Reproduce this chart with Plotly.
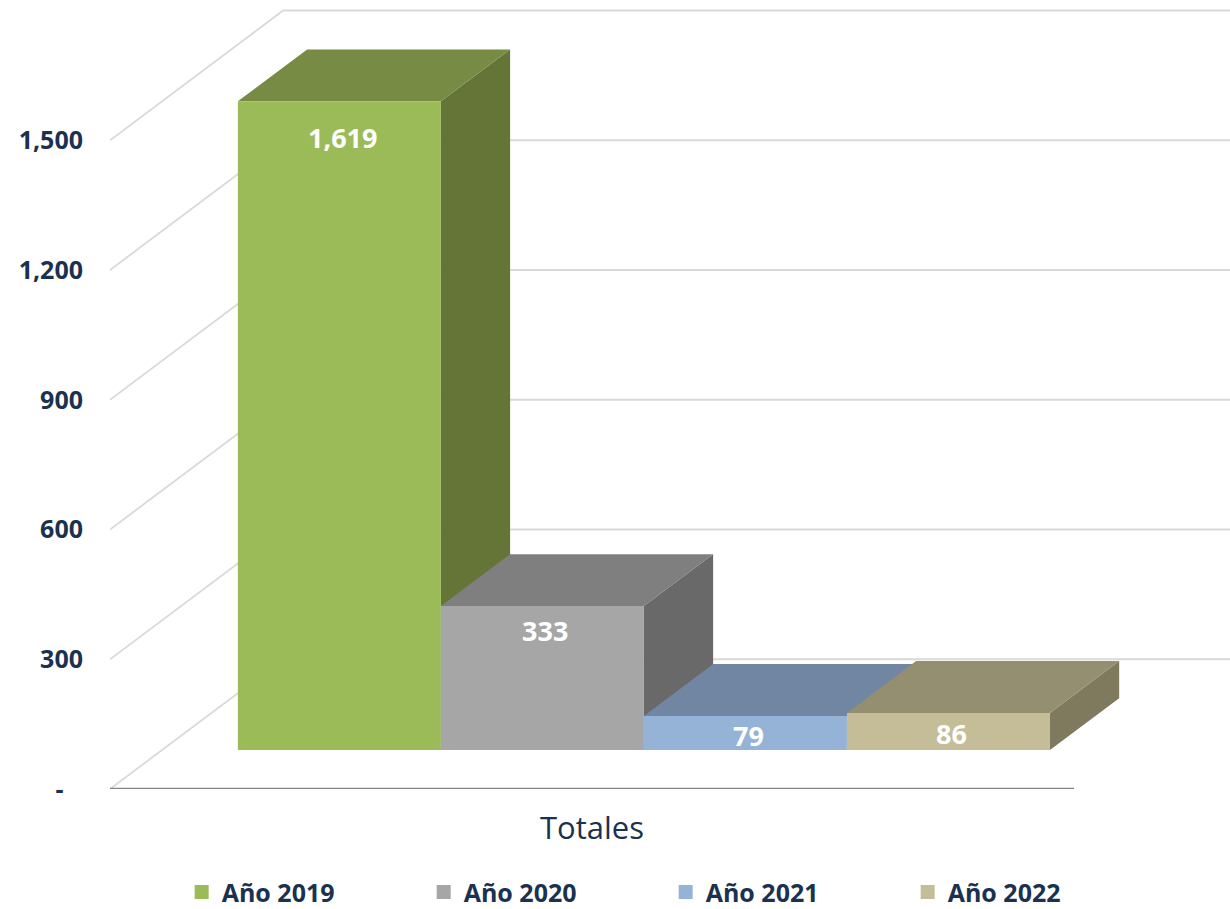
import plotly.graph_objects as go

# ---- data ----
years = ["Año 2019", "Año 2020", "Año 2021", "Año 2022"]
totals = [1619, 333, 79, 86]
category = "Totales"
y_ticks = [0, 300, 600, 900, 1200, 1500]
y_tick_labels = ["-\u00a0\u00a0\u00a0", "300", "600", "900", "1,200", "1,500"]

# ---- styles ----
front_colors = ["#9BBB59", "#A6A6A6", "#95B3D7", "#C4BD97"]
top_colors = ["#778B45", "#7F7F7F", "#7186A3", "#948F70"]
side_colors = ["#647537", "#696969", "#5F7390", "#7F7A5E"]
label_shift_y = [-36, -24, -20, -21]
TEXT = "#1B3150"
GRID = "#D9D9D9"
FONT = "Open Sans"

# ---- oblique projection of the 3-D box layout ----
AXIS_MAX = 1500
DEPTH_X = 0.1795     # floor-width units per full depth
DEPTH_Y = 300        # value units per full depth
SIDE_GAP = 0.0788    # gap at each side of the bars, in floor widths
BAR_NEAR, BAR_FAR = 0.3, 0.7
bar_w = (1 - 2 * SIDE_GAP) / len(totals)


def proj(x, depth, v):
    return x + depth * DEPTH_X, v + depth * DEPTH_Y


def poly(points, color):
    xs, ys = zip(*(proj(*p) for p in points + points[:1]))
    return go.Scatter(x=xs, y=ys, mode="lines", fill="toself", fillcolor=color,
                      line=dict(width=0), hoverinfo="skip", showlegend=False)


fig = go.Figure()

# walls' gridlines
for t in y_ticks:
    xs, ys = zip(proj(0, 0, t), proj(0, 1, t), proj(1.2, 1, t))
    fig.add_trace(go.Scatter(x=xs, y=ys, mode="lines", line=dict(color=GRID, width=1.8),
                             hoverinfo="skip", showlegend=False))

# category axis line
fig.add_trace(go.Scatter(x=[0, 1], y=[0, 0], mode="lines", cliponaxis=False,
                         line=dict(color="#858585", width=2.5),
                         hoverinfo="skip", showlegend=False))

# bars (painted left to right so each one covers its neighbour's side face)
annotations = []
for i, v in enumerate(totals):
    h = min(v, AXIS_MAX)
    x0 = SIDE_GAP + i * bar_w
    x1 = x0 + bar_w
    fig.add_trace(poly([(x1, BAR_NEAR, 0), (x1, BAR_FAR, 0), (x1, BAR_FAR, h), (x1, BAR_NEAR, h)], side_colors[i]))
    fig.add_trace(poly([(x0, BAR_NEAR, h), (x1, BAR_NEAR, h), (x1, BAR_FAR, h), (x0, BAR_FAR, h)], top_colors[i]))
    fig.add_trace(poly([(x0, BAR_NEAR, 0), (x1, BAR_NEAR, 0), (x1, BAR_NEAR, h), (x0, BAR_NEAR, h)], front_colors[i]))
    ax, ay = proj((x0 + x1) / 2, BAR_NEAR, h)
    annotations.append(dict(x=ax, y=ay, xref="x", yref="y", text=f"{v:,}", showarrow=False,
                            xshift=3, yshift=label_shift_y[i], yanchor="middle",
                            font=dict(family=FONT, size=27, color="white", weight=700)))

# legend entries
for name, color in zip(years, front_colors):
    fig.add_trace(go.Scatter(x=[None], y=[None], mode="markers", name=name,
                             marker=dict(symbol="square", size=14, color=color)))

fig.update_layout(
    width=1230, height=909,
    margin=dict(l=110, r=0, t=0, b=120, autoexpand=False),
    paper_bgcolor="white", plot_bgcolor="white",
    font=dict(family=FONT, color=TEXT),
    showlegend=True,
    hovermode=False,
    annotations=annotations,
    legend=dict(orientation="h", x=0.064, xanchor="left", y=-0.131, yanchor="middle",
                entrywidth=197, entrywidthmode="pixels", traceorder="normal",
                font=dict(family=FONT, size=25, color=TEXT, weight=700),
                bgcolor="rgba(0,0,0,0)"),
    xaxis=dict(range=[0, 1120 / 964], tickmode="array", tickvals=[0.5], ticktext=[category],
               showgrid=False, zeroline=False, showline=False, ticks="", ticklabelstandoff=18,
               tickfont=dict(family=FONT, size=31, color=TEXT)),
    yaxis=dict(range=[0, 789 / 0.4325], tickmode="array", tickvals=y_ticks, ticktext=y_tick_labels,
               showgrid=False, zeroline=False, showline=False, ticks="", ticklabelstandoff=26,
               tickfont=dict(family=FONT, size=25, color=TEXT, weight=700)),
)

fig.write_html("out.html", config={"displayModeBar": False},
               post_script="document.body.style.margin='0';document.body.style.overflow='hidden';")
